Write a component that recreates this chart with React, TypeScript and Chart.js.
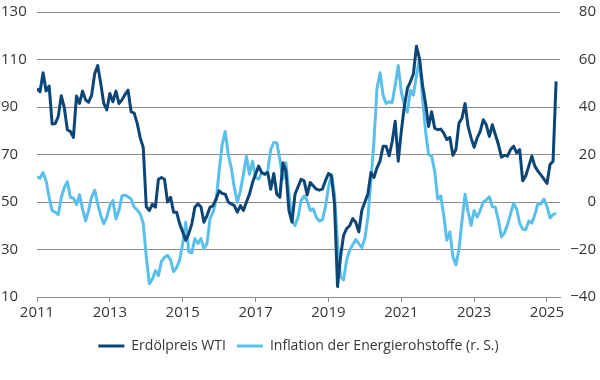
import { useEffect, useRef } from "react";
import { Chart, registerables } from "chart.js";
Chart.register(...registerables);

const startYear = 2011;
const seriesLabels = ["Erdölpreis WTI", "Inflation der Energierohstoffe (r. S.)"];
const yearTicks = [2011, 2013, 2015, 2017, 2019, 2021, 2023, 2025];

const wti = [
  97.8, 96.4, 104.4, 96.7, 98.8, 82.8, 83, 86, 94.7, 89.7, 80.4, 79.7,
  77.2, 94.6, 91.5, 96.7, 93, 92, 95, 104, 107.5, 99.9, 91.5, 88.8,
  95.7, 92.2, 96.7, 91.5, 93, 95.3, 97.1, 88, 87.4, 83.2, 77, 73,
  48, 46.4, 49, 47.8, 59.6, 60.3, 59.6, 50, 52, 45.7, 45.7, 40.8,
  37.4, 33.9, 36.7, 40.8, 47.8, 49.2, 48, 41.5, 44.3, 47.8, 48.5, 51.3,
  54.7, 53.6, 53.3, 50, 49.2, 48.5, 45.7, 48.5, 46.4, 50, 53.3, 58.2,
  61.7, 65.1, 62.4, 61.7, 62.4, 55.4, 62, 53.3, 52, 66.5, 63, 46.4,
  41.5, 53.3, 56.4, 59.6, 58.9, 53, 58.2, 56.8, 55.4, 55, 55.4, 58.9,
  62, 61, 49.2, 14.4, 27, 36, 38.8, 40, 43, 41.5, 37.4, 46.4,
  50, 53.3, 62.4, 60.3, 64.4, 67.2, 73.5, 73.5, 69.4, 75.5, 84, 67.2,
  79.7, 90.1, 97.8, 100.6, 104, 115.6, 110.3, 99.2, 91.5, 81.8, 88, 81.1,
  80.4, 80.7, 79, 76.3, 77.2, 69.7, 72.1, 83.2, 85.3, 91.5, 81.8, 77,
  73, 77, 79.7, 84.6, 82.5, 77.6, 82.5, 78.3, 74.2, 68.9, 69.7, 69.3,
  72.1, 73.5, 70.7, 72.1, 58.9, 61, 65.1, 69.3, 65.1, 63, 61.4, 59.6,
  57.8, 65.8, 67.2, 100.8,
];

const energyInflation = [
  10.6, 10, 12.4, 8.9, 1.9, -3.6, -4.3, -5.3, 1.9, 6.1, 8.6, 1.9,
  1.7, -1.1, 3.1, -2.9, -8, -3.6, 2.2, 5, -0.8, -5.7, -9.2, -6.4,
  -1.5, 0.6, -7.1, -3.6, 2.6, 2.9, 2.2, 1.2, -2.2, -3.3, -5, -9,
  -23, -34.4, -32.5, -28.9, -31, -25, -23.3, -22.5, -24.4, -29.3, -27.5, -24.4,
  -17.5, -8.5, -21, -21.4, -15.4, -17.5, -15.4, -19.6, -17.5, -7, -4.3, 0.6,
  13, 24.2, 29.7, 20, 14.4, 6.1, -0.1, 4.7, 11.7, 19.3, 11.7, 17.2,
  10.3, 9.6, 12.4, 11.7, 13.1, 22.1, 25.1, 24.9, 17.9, 9.6, 16.5, 3.3,
  -7.8, -9.9, -6.4, 0.6, 2.6, 0.6, -3.6, -2.9, -6.4, -8, -7.5, -2.2,
  6.1, 11.7, 3.3, -17.5, -31.4, -32.8, -24.4, -20.3, -18, -15.8, -17.5, -19.2,
  -15.4, -6.4, 8.9, 25.6, 47.8, 54.4, 45, 41.5, 42.2, 41.9, 49.2, 57.5,
  46.4, 40.8, 37.8, 47.1, 45, 53.3, 60.3, 43.6, 29.7, 20, 19.3, 13,
  1.2, 2.6, -5.7, -16.1, -12.6, -23, -26.5, -20, -8, 3.3, -4, -9.9,
  -3.6, -6.4, -3.6, 0, 0.8, 2.2, -1.9, -2.2, -7.8, -14.7, -13, -9.4,
  -5, -0.6, -2.9, -8.9, -11.4, -11.7, -8, -8.9, -5.4, -0.6, -0.8, 1.2,
  -1.9, -6.7, -5.3, -4.7,
];

const DARK = "#0d4676";
const LIGHT = "#5bbfec";
const GRID = "#8f8b87";
const TEXT = "#383531";
const FONT = "'Open Sans', 'Noto Sans', sans-serif";

export default function App() {
  const ref = useRef<HTMLCanvasElement>(null);
  useEffect(() => {
    document.body.style.margin = "0";
    const toPoints = (arr: number[]) => arr.map((v, i) => ({ x: startYear + i / 12, y: v }));
    const baseGen = Chart.defaults.plugins.legend.labels.generateLabels;
    const chart = new Chart(ref.current as HTMLCanvasElement, {
      type: "line",
      data: {
        datasets: [
          {
            label: seriesLabels[0],
            data: toPoints(wti),
            borderColor: DARK,
            backgroundColor: DARK,
            borderWidth: 3,
            pointRadius: 0,
            tension: 0,
            yAxisID: "y",
            borderJoinStyle: "round",
          },
          {
            label: seriesLabels[1],
            data: toPoints(energyInflation),
            borderColor: LIGHT,
            backgroundColor: LIGHT,
            borderWidth: 3,
            pointRadius: 0,
            tension: 0,
            yAxisID: "y1",
            borderJoinStyle: "round",
          },
        ],
      },
      options: {
        responsive: false,
        animation: false,
        layout: { padding: { top: 0, right: 4, bottom: 17, left: 1 } },
        plugins: {
          tooltip: { enabled: false },
          legend: {
            position: "bottom",
            labels: {
              boxWidth: 26,
              boxHeight: 3,
              padding: 11,
              color: TEXT,
              font: { family: FONT, size: 14 },
              generateLabels: (c: any) =>
                baseGen(c).map((l: any) => ({ ...l, lineWidth: 0, fillStyle: l.strokeStyle })),
            },
          },
        },
        scales: {
          x: {
            type: "linear",
            min: 2011,
            max: 2025.357,
            afterBuildTicks: (s: any) => {
              s.ticks = yearTicks.map((v) => ({ value: v }));
            },
            afterFit: (s: any) => {
              s.height = 31;
            },
            ticks: {
              callback: (v: any) => String(v),
              maxRotation: 0,
              autoSkip: false,
              color: TEXT,
              font: { family: FONT, size: 15 },
              padding: 2,
            },
            grid: { drawOnChartArea: false, drawTicks: true, tickLength: 5, color: GRID },
            border: { display: true, color: GRID },
          },
          y: {
            position: "left",
            min: 10,
            max: 130,
            afterFit: (s: any) => {
              s.width = 36;
            },
            ticks: {
              stepSize: 20,
              crossAlign: "far",
              color: TEXT,
              font: { family: FONT, size: 15 },
            },
            grid: { color: GRID, drawTicks: false, lineWidth: 1 },
            border: { display: false },
          },
          y1: {
            position: "right",
            min: -40,
            max: 80,
            afterFit: (s: any) => {
              s.width = 36;
            },
            ticks: {
              stepSize: 20,
              crossAlign: "far",
              color: TEXT,
              font: { family: FONT, size: 15 },
              callback: (v: any) => (Number(v) < 0 ? "\u2212" + Math.abs(Number(v)) : String(v)),
            },
            grid: { drawOnChartArea: false, drawTicks: false },
            border: { display: false },
          },
        },
      },
    } as any);
    return () => chart.destroy();
  }, []);
  return (
    <div style={{ width: 600, height: 380 }}>
      <canvas ref={ref} width={600} height={380} style={{ display: "block" }} />
    </div>
  );
}
